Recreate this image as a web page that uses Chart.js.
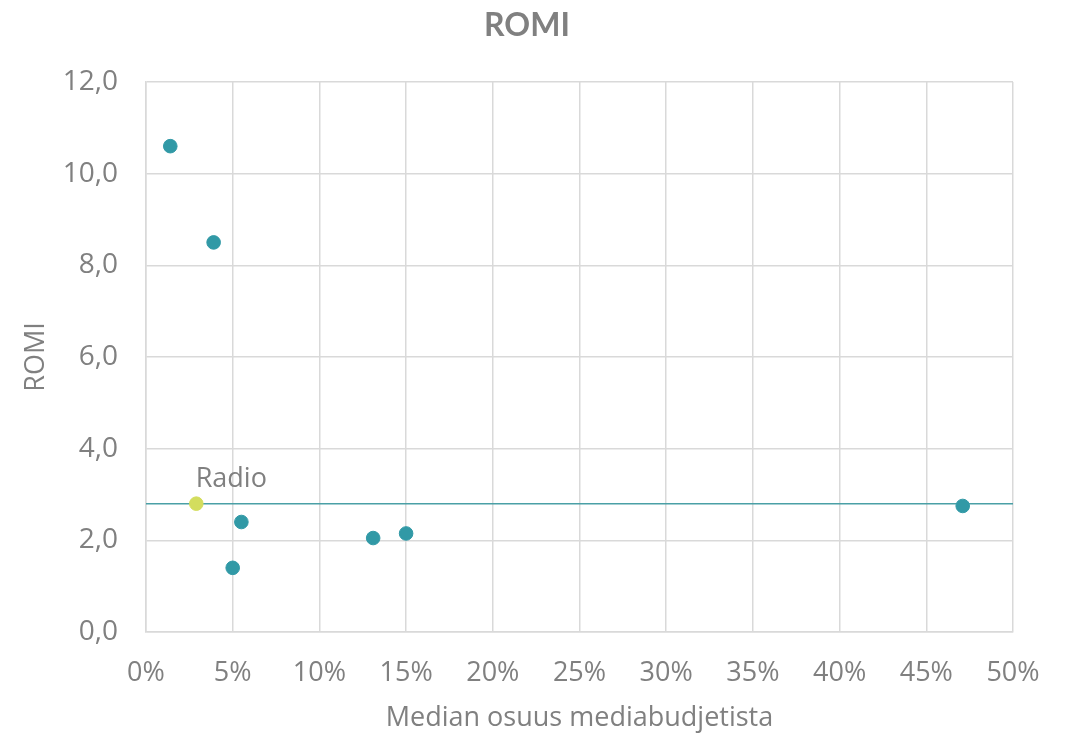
<!DOCTYPE html>
<html>
<head>
<meta charset="utf-8">
<script src="https://cdn.jsdelivr.net/npm/chart.js@4/dist/chart.umd.min.js"></script>
<style>
  html, body { margin: 0; padding: 0; background: #fff; }
  #wrap { width: 1068px; height: 735px; }
</style>
</head>
<body>
<div id="wrap"><canvas id="chart"></canvas></div>
<script>
// media channels: share of median media budget (%) vs ROMI
const shares = [1.4, 3.9, 5.5, 5.0, 13.1, 15.0, 47.1];
const romi = [10.6, 8.5, 2.4, 1.4, 2.05, 2.15, 2.75];

const radioShare = [2.9];
const radioRomi = [2.8];
const radioLabel = "Radio";

// reference line across the plot at the radio ROMI
const lineX = [0, 50];
const lineY = [2.8, 2.8];

const chartTitle = "ROMI";

const GRAY = "#808080";
const TEAL = "#3199a6";
const LIME = "#d3dd5e";

// title is centred on the page rather than on the padded layout box
const titlePlugin = {
  id: "pageTitle",
  afterDraw(chart) {
    const ctx = chart.ctx;
    ctx.save();
    ctx.font = "bold 32px Lato";
    ctx.fillStyle = GRAY;
    ctx.textAlign = "center";
    ctx.textBaseline = "middle";
    ctx.fillText(chartTitle, 527, 26);
    ctx.restore();
  },
};

// writes the series label above the radio point
const radioLabelPlugin = {
  id: "radioLabel",
  afterDatasetsDraw(chart) {
    const pt = chart.getDatasetMeta(1).data[0];
    const ctx = chart.ctx;
    ctx.save();
    ctx.font = "27px 'Open Sans'";
    ctx.fillStyle = GRAY;
    ctx.textAlign = "center";
    ctx.textBaseline = "middle";
    ctx.fillText(radioLabel, pt.x + 35, pt.y - 24);
    ctx.restore();
  },
};

new Chart(document.getElementById("chart"), {
  type: "scatter",
  data: {
    datasets: [
      {
        data: shares.map((x, i) => ({ x, y: romi[i] })),
        backgroundColor: TEAL,
        borderColor: TEAL,
        pointRadius: 6.8,
        order: 1,
      },
      {
        data: radioShare.map((x, i) => ({ x, y: radioRomi[i] })),
        backgroundColor: LIME,
        borderColor: LIME,
        pointRadius: 6.8,
        order: 0,
      },
      {
        type: "line",
        data: lineX.map((x, i) => ({ x, y: lineY[i] })),
        borderColor: "#4aa0a6",
        borderWidth: 1.5,
        pointRadius: 0,
        order: 2,
      },
    ],
  },
  options: {
    responsive: true,
    maintainAspectRatio: false,
    animation: false,
    layout: { padding: { left: 0, right: 55, top: 82, bottom: 0 } },
    plugins: {
      legend: { display: false },
      tooltip: { enabled: false },
      title: { display: false },
    },
    scales: {
      x: {
        type: "linear",
        min: 0,
        max: 50,
        grid: { color: "#d9d9d9", lineWidth: 1.5, drawTicks: false },
        border: { color: "#d9d9d9", width: 1.5 },
        ticks: {
          stepSize: 5,
          color: GRAY,
          padding: 25,
          font: { family: "Open Sans", size: 27 },
          callback: (v) => v + "%",
        },
        title: {
          display: true,
          text: "Median osuus mediabudjetista",
          color: GRAY,
          font: { family: "Open Sans", size: 27 },
          padding: { top: 2, bottom: 0 },
        },
        afterFit(scale) { scale.height = 103; },
      },
      y: {
        min: 0,
        max: 12,
        grid: { color: "#d9d9d9", lineWidth: 1.5, drawTicks: false },
        border: { color: "#d9d9d9", width: 1.5 },
        ticks: {
          stepSize: 2,
          color: GRAY,
          padding: 28,
          font: { family: "Open Sans", size: 28 },
          callback: (v) => v.toFixed(1).replace(".", ","),
        },
        title: {
          display: true,
          text: "ROMI",
          color: GRAY,
          font: { family: "Open Sans", size: 27 },
          padding: { top: 20, bottom: 0 },
        },
        afterFit(scale) { scale.width = 146; },
      },
    },
  },
  plugins: [radioLabelPlugin, titlePlugin],
});
</script>
</body>
</html>
